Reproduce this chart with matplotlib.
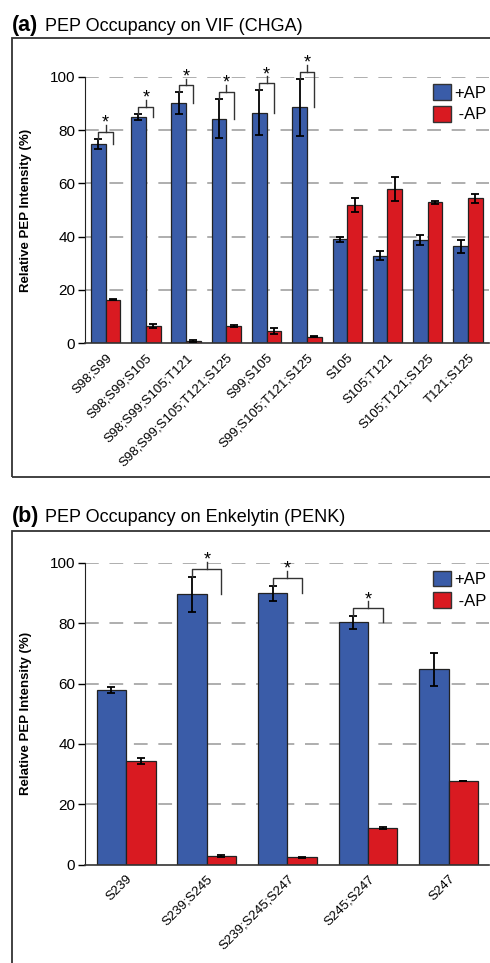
import matplotlib.pyplot as plt
from matplotlib.patches import Patch, Rectangle

plt.rcParams['font.family'] = ['DejaVu Sans Condensed', 'Liberation Sans']

BLUE = '#3a5ca8'
RED = '#d91a21'

# (a) VIF / CHGA
sites_a = ['S98;S99', 'S98;S99;S105', 'S98;S99;S105;T121', 'S98;S99;S105;T121;S125',
           'S99;S105', 'S99;S105;T121;S125', 'S105', 'S105;T121', 'S105;T121;S125', 'T121;S125']
plus_a = [74.8, 84.8, 90.0, 84.3, 86.5, 88.6, 39.0, 32.9, 38.6, 36.4]
plus_err_a = [1.9, 1.2, 4.1, 7.4, 8.4, 10.7, 0.9, 1.7, 1.9, 2.4]
minus_a = [16.4, 6.5, 0.9, 6.5, 4.7, 2.5, 51.9, 57.9, 52.9, 54.4]
minus_err_a = [0.3, 0.6, 0.3, 0.3, 1.2, 0.3, 2.5, 4.5, 0.6, 1.7]
signif_a = [0, 1, 2, 3, 4, 5]

# (b) Enkelytin / PENK
sites_b = ['S239', 'S239;S245', 'S239;S245;S247', 'S245;S247', 'S247']
plus_b = [57.9, 89.6, 89.9, 80.3, 64.7]
plus_err_b = [1.0, 5.9, 2.5, 2.1, 5.4]
minus_b = [34.4, 2.8, 2.4, 12.0, 27.7]
minus_err_b = [1.0, 0.2, 0.2, 0.3, 0.15]
signif_b = [1, 2, 3]

W, H = 490, 963
fig = plt.figure(figsize=(W / 100, H / 100), dpi=100)


def px_axes(left, top, right, bottom):
    return fig.add_axes([left / W, 1 - bottom / H, (right - left) / W, (bottom - top) / H])


def draw_panel(ax, sites, plus, plus_err, minus, minus_err, signif, stem):
    xs = list(range(len(sites)))
    bw = 0.365
    ax.bar([x - bw / 2 for x in xs], plus, bw, color=BLUE, edgecolor='#222222',
           linewidth=0.9, zorder=2)
    ax.bar([x + bw / 2 for x in xs], minus, bw, color=RED, edgecolor='#222222',
           linewidth=0.9, zorder=2)
    ekw = dict(fmt='none', ecolor='black', elinewidth=1.3, capsize=2.6, capthick=1.3, zorder=3)
    ax.errorbar([x - bw / 2 for x in xs], plus, yerr=plus_err, **ekw)
    ax.errorbar([x + bw / 2 for x in xs], minus, yerr=minus_err, **ekw)

    # significance brackets
    for i in signif:
        xl, xr = i - bw / 2, i + bw / 2
        top = plus[i] + plus_err[i]
        h = top + 2.6
        ax.plot([xl, xl, xr, xr], [top, h, h, plus[i]], color='#333333', lw=1.0,
                clip_on=False, zorder=4)
        ax.plot([i, i], [h, h + stem], color='#333333', lw=1.0, clip_on=False, zorder=4)
        ax.annotate('*', xy=(i, h), xytext=(0, 3.0), textcoords='offset points',
                    ha='center', va='baseline', fontsize=13, annotation_clip=False)

    ax.set_ylim(0, 100)
    ax.set_yticks([0, 20, 40, 60, 80, 100])
    ax.set_xticks(xs)
    ax.set_xticklabels(sites, rotation=45, ha='right', rotation_mode='anchor', fontsize=9.5)
    ax.tick_params(axis='x', length=0, pad=6)
    ax.tick_params(axis='y', length=5, width=1.0, labelsize=11, pad=2, direction='out')
    for y in [20, 40, 60, 80, 100]:
        ax.axhline(y, color='#999999', lw=1.1, ls=(0, (9, 7)), zorder=1)
    ax.spines['top'].set_visible(False)
    ax.spines['right'].set_visible(False)
    ax.spines['left'].set_color('#222222')
    ax.spines['bottom'].set_color('#333333')
    ax.spines['bottom'].set_linewidth(1.2)
    ax.set_ylabel('Relative PEP Intensity (%)', fontsize=9.5, fontweight='bold')
    ax.yaxis.set_label_coords(-0.13, 0.5)
    handles = [Patch(facecolor=BLUE, edgecolor='#333333', label='+AP'),
               Patch(facecolor=RED, edgecolor='#333333', label=' -AP')]
    ax.legend(handles=handles, loc='upper right', bbox_to_anchor=(1.01, 0.997), frameon=False,
              fontsize=12, handlelength=1.08, handleheight=1.08, handletextpad=0.2,
              labelspacing=0.3, borderaxespad=0)


ax_a = px_axes(85, 76.7, 489, 343.3)
draw_panel(ax_a, sites_a, plus_a, plus_err_a, minus_a, minus_err_a, signif_a, 2.6)
ax_a.set_xlim(-0.51, 9.52)

ax_b = px_axes(85, 563, 489, 864.5)
draw_panel(ax_b, sites_b, plus_b, plus_err_b, minus_b, minus_err_b, signif_b, 2.3)
ax_b.set_xlim(-0.51, 4.5)

# panel titles and frames
for tag, title, base, top, bottom in [('(a)', 'PEP Occupancy on VIF (CHGA)', 31, 38, 477),
                                      ('(b)', 'PEP Occupancy on Enkelytin (PENK)', 522, 531, 980)]:
    fig.text(12 / W, 1 - base / H, tag, fontsize=15.5, fontweight='bold', va='baseline')
    fig.text(45 / W, 1 - base / H, title, fontsize=13, va='baseline')
    fig.add_artist(Rectangle((12 / W, 1 - bottom / H), 1.0, (bottom - top) / H,
                             transform=fig.transFigure, fill=False, edgecolor='#333333',
                             linewidth=1.3))

fig.savefig('out.png', dpi=100)
